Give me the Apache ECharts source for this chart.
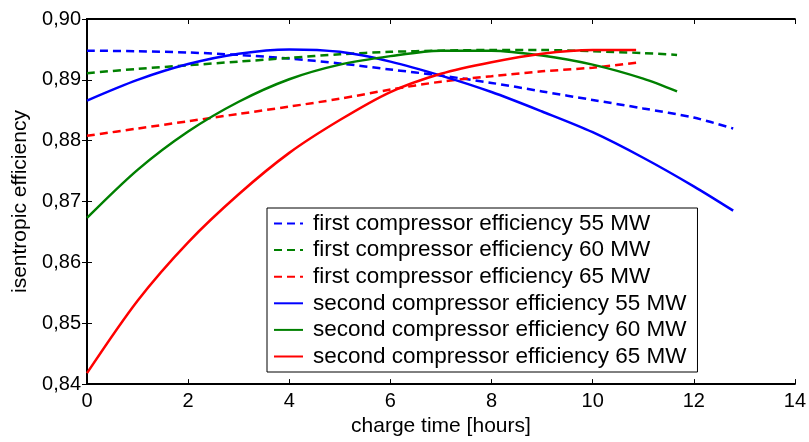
<!DOCTYPE html>
<html>
<head>
<meta charset="utf-8">
<script src="https://cdn.jsdelivr.net/npm/echarts@6/dist/echarts.min.js"></script>
<style>html,body{margin:0;padding:0;background:#fff}#c{width:809px;height:442px}</style>
</head>
<body>
<div id="c"></div>
<script>
// ---- data ----
const seriesNames = [
  'first compressor efficiency 55 MW',
  'first compressor efficiency 60 MW',
  'first compressor efficiency 65 MW',
  'second compressor efficiency 55 MW',
  'second compressor efficiency 60 MW',
  'second compressor efficiency 65 MW'
];
const xFirst55  = [0,1,2,3,4,5,6,7,8,9,10,11,12,12.78];
const yFirst55  = [0.8948,0.8947,0.8945,0.8941,0.8935,0.8927,0.8917,0.8907,0.8895,0.8881,0.8867,0.8853,0.8838,0.8820];
const xFirst60  = [0,1,2,3,4,5,6,7,8,9,10,11,11.67];
const yFirst60  = [0.8911,0.8918,0.8924,0.8930,0.8936,0.8942,0.8946,0.8948,0.8949,0.8949,0.8947,0.8944,0.8941];
const xFirst65  = [0,1,2,3,4,5,6,7,8,9,10,10.86];
const yFirst65  = [0.8808,0.8820,0.8832,0.8844,0.8856,0.8869,0.8884,0.8897,0.8906,0.8914,0.8920,0.8928];
const xSecond55 = [0,1,2,3,4,5,6,7,8,9,10,11,12,12.78];
const ySecond55 = [0.8866,0.8900,0.8926,0.8943,0.8950,0.8946,0.8930,0.8907,0.8880,0.8848,0.8814,0.8772,0.8725,0.8685];
const xSecond60 = [0,1,2,3,4,5,6,7,8,9,10,11,11.67];
const ySecond60 = [0.8673,0.8752,0.8815,0.8864,0.8901,0.8925,0.8939,0.8948,0.8948,0.8940,0.8925,0.8902,0.8881];
const xSecond65 = [0,1,2,3,4,5,6,7,8,9,10,10.86];
const ySecond65 = [0.8418,0.8537,0.8633,0.8712,0.8780,0.8834,0.8880,0.8910,0.8929,0.8943,0.8949,0.8949];
const xTicks = [0,2,4,6,8,10,12,14];
const yTicks = [0.84,0.85,0.86,0.87,0.88,0.89,0.90];

const colors = ['#0000ff','#008000','#ff0000','#0000ff','#008000','#ff0000'];
const dashed = [true,true,true,false,false,false];
const xs = [xFirst55,xFirst60,xFirst65,xSecond55,xSecond60,xSecond65];
const ys = [yFirst55,yFirst60,yFirst65,ySecond55,ySecond60,ySecond65];

const font = "'Liberation Sans', Arial, sans-serif";
const chart = echarts.init(document.getElementById('c'), null, {renderer:'canvas'});

const series = seriesNames.map((n,i)=>({
  name:n, type:'line', symbol:'none', smooth:0.3, animation:false,
  xAxisIndex:0, yAxisIndex:0,
  lineStyle:{color:colors[i], width:2.5, type: dashed[i] ? [8,5] : 'solid'},
  itemStyle:{color:colors[i]},
  data: xs[i].map((x,j)=>[x, ys[i][j]]),
  z: 3
}));

const tickStyle = {show:true, inside:true, length:5, lineStyle:{color:'#000', width:1}};
const lineStyle = {show:true, lineStyle:{color:'#000', width:2}};

chart.setOption({
  backgroundColor:'#fff',
  animation:false,
  grid:{left:87, top:19, right:13, bottom:54, containLabel:false},
  legend:{
    data: seriesNames,
    orient:'vertical',
    left:267, top:208,
    itemWidth:29, itemHeight:14, itemGap:3.6,
    padding:[4,11,4,6],
    borderColor:'#000', borderWidth:1,
    backgroundColor:'#fff',
    itemStyle:{color:'rgba(0,0,0,0)', borderWidth:0, opacity:0},
    textStyle:{fontFamily:font, fontSize:22.5, color:'#000', lineHeight:22, padding:[0,0,0,5]},
    selectedMode:false
  },
  xAxis:[
    {type:'value', min:xTicks[0], max:xTicks[xTicks.length-1], interval:2, position:'bottom',
     axisLine:lineStyle, axisTick:tickStyle, splitLine:{show:false},
     axisLabel:{fontFamily:font, fontSize:20, color:'#000', margin:7},
     name:'charge time [hours]', nameLocation:'middle', nameGap:26,
     nameTextStyle:{fontFamily:font, fontSize:21, color:'#000'}},
    {type:'value', min:xTicks[0], max:xTicks[xTicks.length-1], interval:2, position:'top',
     axisLine:lineStyle, axisTick:tickStyle, splitLine:{show:false}, axisLabel:{show:false}}
  ],
  yAxis:[
    {type:'value', min:yTicks[0], max:yTicks[yTicks.length-1], interval:0.01, position:'left',
     axisLine:lineStyle, axisTick:tickStyle, splitLine:{show:false},
     axisLabel:{fontFamily:font, fontSize:20, color:'#000', margin:6,
       formatter:v=>v.toFixed(2).replace('.',',')},
     name:'isentropic efficiency', nameLocation:'middle', nameGap:54,
     nameTextStyle:{fontFamily:font, fontSize:21, color:'#000'}},
    {type:'value', min:yTicks[0], max:yTicks[yTicks.length-1], interval:0.01, position:'right',
     axisLine:lineStyle, axisTick:tickStyle, splitLine:{show:false}, axisLabel:{show:false}}
  ],
  series: series
});
</script>
</body>
</html>
